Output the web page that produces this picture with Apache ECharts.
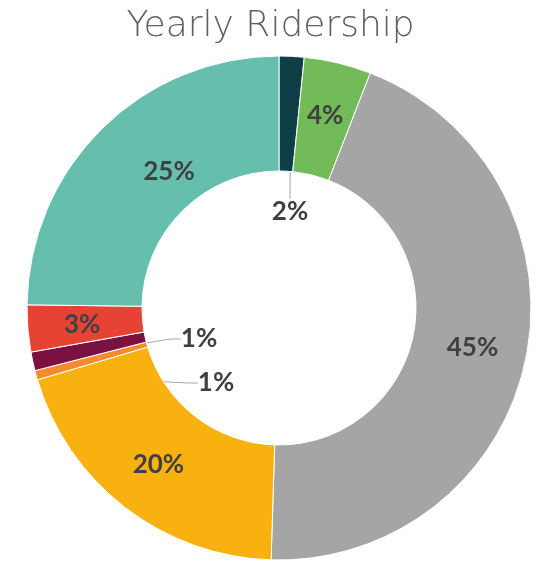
<!DOCTYPE html>
<html><head><meta charset="utf-8">
<script src="https://cdn.jsdelivr.net/npm/echarts@6/dist/echarts.min.js"></script>
<style>html,body{margin:0;padding:0;background:#fff}#c{width:541px;height:561px}</style>
</head><body><div id="c"></div>
<script>
const categories = ['A','B','C','D','E','F','G','H'];
const values = [1.6, 4.3, 44.6, 19.9, 0.6, 1.2, 3.0, 24.8];
const labels = ['2%','4%','45%','20%','1%','1%','3%','25%'];
const colors = ['#0e3f47','#72bb58','#a5a5a5','#f8b10f','#f58b2e','#7a1141','#e74335','#66bfac'];
// label placements for labels moved into the hole / shifted
const labelSpots = {0:[290,212], 4:[216,383], 5:[199,339], 7:[169,172]};
const outsideIdx = [0,4,5];

const chart = echarts.init(document.getElementById('c'));
chart.setOption({
  animation:false,
  title:{text:'Yearly Ridership', left:'center', top:4,
    textStyle:{fontFamily:'DejaVu Sans', fontWeight:200, fontSize:36, color:'#606060'}},
  series:[{
    type:'pie', center:[279,308], radius:[137,252], startAngle:90, clockwise:true,
    avoidLabelOverlap:false,
    itemStyle:{borderColor:'#fff', borderWidth:1},
    label:{position:'inside', fontFamily:'Lato', fontWeight:'bold', fontSize:26, color:'#404040',
      formatter:p=>labels[p.dataIndex]},
    labelLine:{show:false},
    labelLayout:function(p){
      const s = labelSpots[p.dataIndex];
      if(!s) return {};
      return {x:s[0], y:s[1], align:'center', verticalAlign:'middle'};
    },
    data: categories.map((c,i)=>{
      const d = {name:c, value:values[i], itemStyle:{color:colors[i]}};
      if(outsideIdx.includes(i)){
        d.label = {position:'outside'};
        d.labelLine = {show:true, length:10, length2:10, lineStyle:{color:'#a6a6a6', width:1}};
      }
      return d;
    })
  }]
});
</script></body></html>
